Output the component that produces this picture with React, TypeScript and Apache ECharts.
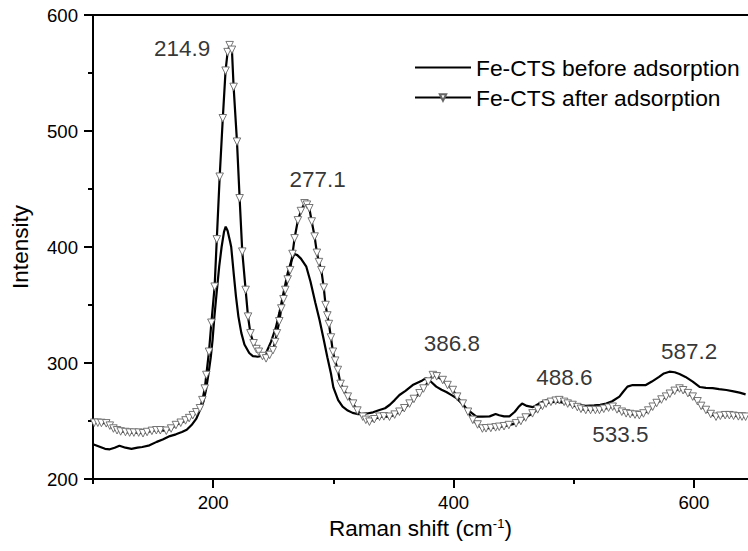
import React, { useEffect, useRef } from "react";
import * as echarts from "echarts";

// Fe-CTS before adsorption: [Raman shift, intensity]
const beforeX = [100,105,110,114,118,122,127,132,137,141,147,153,158,164,169,174,178,182,186,189,192,194,196,198,199.5,201,203,205,207,209,210.4,212,214,215,217,219,221,223.4,226,230,233,237,240,244,248,252,255,258,262,265,267.6,270,273,277.5,281,285,288.5,292,295,298,300,304,307.7,312,316,320,323,328,333,338.4,343,347,351,355,360,366,370,374,377,381,385.6,390,394,398,402,406,410.5,415,419,424,430,435,438,442,446.5,451,454,457,461,466,471,477,481,485,490,496,503,510,517,522,527,532,538,541,544.7,549,555,560,565,571,575,579.6,584,588,593,599,605,610,615.6,621,627,633,638,643];
const beforeY = [230,228,226,225.6,227,228.7,227,226,227,227.6,229,232,234,237,238.5,240.5,242.5,246.5,252,259.5,267,276.7,290,305,320,340,362,383,400,413,417.5,414,405,400,378,357,340,326,316,308.6,306,305.4,306,308.6,318,330,343,358,377.6,388,394,393,390,383,370,352,337,320,305,291,279,268,262.3,259,257,256,256,256.5,257.5,259.5,261,264,268,272.4,276,281,283,285,287,284,279.6,277,275,272.5,270,266,261,257,253.7,253.7,254,256,255,254,254,258,262,265,263,262,265,268,266,266.6,266,265,264,263,263.5,264,265,267,271,275,279.6,281,281,281,284,288,291,292.5,292,290.5,288,284,279.3,278.5,278.4,277.5,276.7,275.5,274.5,273];

// Fe-CTS after adsorption: [Raman shift, intensity]
const afterX = [101,104,107,111,114,117,120,123,127,130.5,134,138,141.6,145,149,152.7,156,161,165,169,173,177,180,183,186,189,191,193,194.3,196.5,198.5,201.2,203,205.4,208,210.3,212,213.7,215.6,217,219.8,222,224.2,227,229,231,233.6,236,238,241,244,247,249.7,251.5,253,255,256.7,258.5,260,262,264,266,267.7,270.5,273,276,278,280,282,284.4,286.3,288,290,292,293.5,295,296.3,298,299.6,301.5,303.7,306,309,312,316.4,320,324.5,327,330,334,338.4,342,346.7,351,355,359,363.4,367,371.7,375,379,382.8,386,391,395,399.4,403,407.7,412,416,420,424,427,431,435,438,442,446,452,456,460,465.7,470,474,477,481,485,488,492,495,499,503,506,510,514,518,521.4,525,529,532.4,536,540,543.6,547,551,554.6,558,562,565.7,569,573,576.8,580,584,588,591,595,599,603,606,610,614,618.4,622,626,629.5,633,637,640,643];
const afterY = [248.5,248.5,248.3,248,246,243.5,242,241,240.5,240,240,240,239.4,240.5,241.5,242,242,241.6,243.5,246.5,248.5,250.5,252.5,255,257.5,261,268,278,289.7,309.7,334.7,365.8,406.6,460.6,511,552,568,574,570,538,490.8,442,396,363,340,325.6,317,312,309.7,306,304,307,311,318,325.6,336,347,355,363,372,380,394,407.5,423,431,437.7,436.5,433.4,422,409,395,387,380,365,350,341,333.6,322,309.7,302,294,282,276.7,271,265,259,253.7,251,249.4,251.5,253.7,254,253.7,255.5,258,261,265,269,273.9,278,284,289.6,288.5,285.3,281,276.7,271,265,258,251,247,243.5,243.7,244,244.5,245,245.5,246.5,248,250,253,256.6,260,263,265,266.5,267.5,268,266.5,265,263.8,262,260.5,259.5,259.5,259.5,259.5,260.5,261.5,262.3,260,258,256.6,256,255.5,255,256.5,259,262.3,265.5,268.5,271,273.5,276,278,276.5,274,271,267,263,259.5,256,253.7,254.5,255,255,254.5,254,253.8,253.7];

// Peak annotations: text and its anchor in data units
const peakLabels = ["214.9", "277.1", "386.8", "488.6", "533.5", "587.2"];
const peakLabelX = [174.2, 286.9, 398.7, 492.3, 538.8, 596.1];
const peakLabelY = [570.7, 457.8, 316.4, 287.1, 238, 309.5];

const xMajorTicks = [200, 400, 600];
const xMinorTicks = [100, 300, 500];
const seriesNames = ["Fe-CTS before adsorption", "Fe-CTS after adsorption"];

const FONT = "'Liberation Sans', Arial, sans-serif";

export default function App() {
  const ref = useRef<HTMLDivElement>(null);
  useEffect(() => {
    if (!ref.current) return;
    const chart = echarts.init(ref.current, null, { renderer: "svg" });
    const before = beforeX.map((x, i) => [x, beforeY[i]]);
    const after = afterX.map((x, i) => [x, afterY[i]]);
    const labels = peakLabels.map((t, i) => ({ name: t, value: [peakLabelX[i], peakLabelY[i]] }));
    const xMin = 100;
    const xMax = 645;
    chart.setOption({
      animation: false,
      backgroundColor: "#ffffff",
      textStyle: { fontFamily: FONT },
      grid: { left: 93, right: 0, top: 15, bottom: 72 },
      legend: {
        data: [
          { name: seriesNames[0], itemStyle: { opacity: 0 } },
          { name: seriesNames[1] },
        ],
        orient: "vertical",
        left: 409,
        top: 51,
        itemWidth: 56,
        itemHeight: 8,
        itemGap: 7,
        textStyle: { fontFamily: FONT, fontSize: 22.8, color: "#000", lineHeight: 22 },
        selectedMode: false,
      },
      xAxis: [
        {
          type: "value",
          min: xMin,
          max: xMax,
          position: "bottom",
          name: "Raman shift (cm{sup|-1})",
          nameLocation: "middle",
          nameGap: 38,
          nameTextStyle: {
            fontFamily: FONT,
            fontSize: 22.5,
            color: "#000",
            rich: { sup: { fontFamily: FONT, fontSize: 13, color: "#000", verticalAlign: "top", padding: [0, 0, 10, 0] } },
          },
          axisLine: { show: true, lineStyle: { color: "#000", width: 2 } },
          axisTick: { show: true, length: 9, lineStyle: { color: "#000", width: 2 }, customValues: xMajorTicks },
          axisLabel: { show: true, margin: 14, fontFamily: FONT, fontSize: 18.6, color: "#000", customValues: xMajorTicks },
          splitLine: { show: false },
        },
        {
          type: "value",
          min: xMin,
          max: xMax,
          position: "bottom",
          axisLine: { show: false },
          axisTick: { show: true, length: 5, lineStyle: { color: "#000", width: 2 }, customValues: xMinorTicks },
          axisLabel: { show: false },
          splitLine: { show: false },
        },
        {
          type: "value",
          min: xMin,
          max: xMax,
          position: "top",
          axisLine: { show: true, lineStyle: { color: "#000", width: 2 } },
          axisTick: { show: false },
          axisLabel: { show: false },
          splitLine: { show: false },
        },
      ],
      yAxis: {
        type: "value",
        min: 200,
        max: 600,
        interval: 100,
        name: "Intensity",
        nameLocation: "middle",
        nameGap: 61,
        nameTextStyle: { fontFamily: FONT, fontSize: 22.5, color: "#000" },
        axisLine: { show: true, lineStyle: { color: "#000", width: 2 } },
        axisTick: { show: true, length: 9, lineStyle: { color: "#000", width: 2 } },
        minorTick: { show: true, splitNumber: 2, length: 5, lineStyle: { color: "#000", width: 2 } },
        axisLabel: { margin: 15, fontFamily: FONT, fontSize: 18.6, color: "#000" },
        splitLine: { show: false },
      },
      series: [
        {
          name: seriesNames[0],
          type: "line",
          xAxisIndex: 0,
          data: before,
          showSymbol: false,
          symbol: "none",
          lineStyle: { color: "#000", width: 2.2 },
          itemStyle: { color: "#000" },
        },
        {
          name: seriesNames[1],
          type: "line",
          xAxisIndex: 0,
          data: after,
          symbol: "triangle",
          symbolRotate: 180,
          symbolSize: 7.5,
          showAllSymbol: true,
          lineStyle: { color: "#000", width: 2.2 },
          itemStyle: { color: "#ffffff", borderColor: "#666", borderWidth: 0.9 },
        },
        {
          name: "peaks",
          type: "scatter",
          xAxisIndex: 0,
          data: labels,
          symbol: "circle",
          symbolSize: 1,
          itemStyle: { color: "rgba(0,0,0,0)" },
          label: {
            show: true,
            position: "inside",
            formatter: "{b}",
            fontFamily: FONT,
            fontSize: 22.5,
            color: "#000",
          },
          silent: true,
        },
      ],
    });
    return () => chart.dispose();
  }, []);
  return (
    <div
      ref={ref}
      style={{ position: "absolute", left: 0, top: 0, width: 748, height: 551, background: "#fff" }}
    />
  );
}
